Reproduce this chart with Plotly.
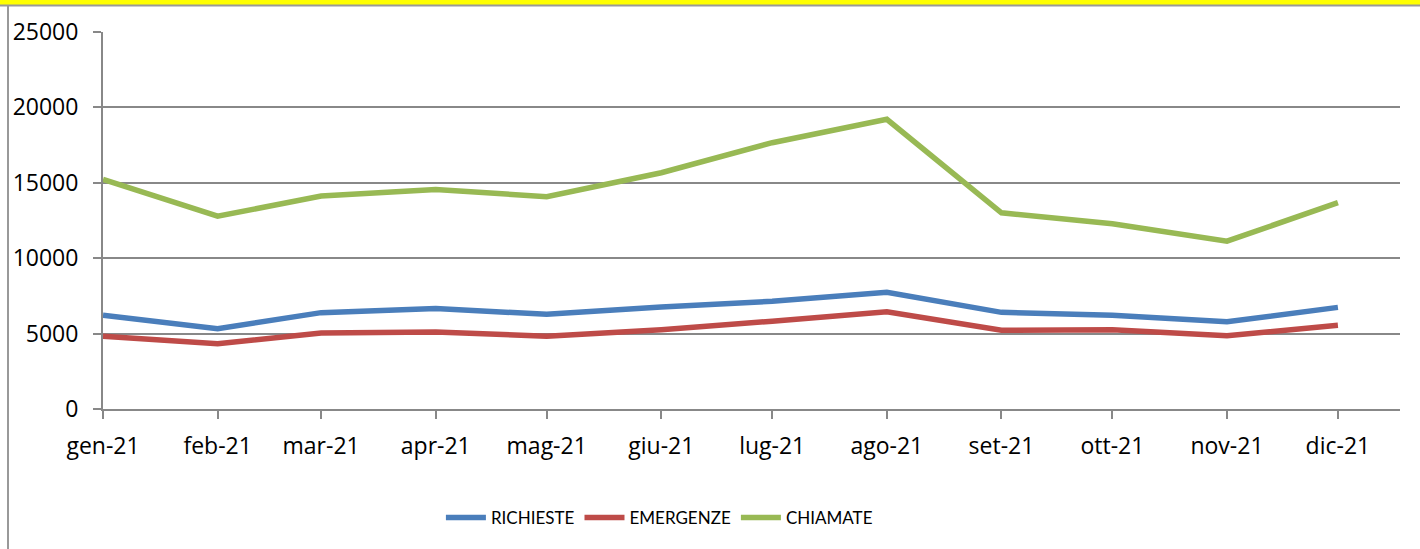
import plotly.graph_objects as go

months = ["2021-01-01", "2021-02-01", "2021-03-01", "2021-04-01", "2021-05-01", "2021-06-01",
          "2021-07-01", "2021-08-01", "2021-09-01", "2021-10-01", "2021-11-01", "2021-12-01"]
month_labels = ["gen-21", "feb-21", "mar-21", "apr-21", "mag-21", "giu-21",
                "lug-21", "ago-21", "set-21", "ott-21", "nov-21", "dic-21"]

richieste = [6210, 5330, 6390, 6660, 6280, 6770, 7140, 7740, 6410, 6210, 5780, 6740]
emergenze = [4820, 4330, 5040, 5110, 4820, 5260, 5820, 6440, 5220, 5260, 4860, 5550]
chiamate = [15220, 12790, 14120, 14560, 14080, 15670, 17660, 19210, 13010, 12280, 11130, 13680]

y_ticks = [0, 5000, 10000, 15000, 20000, 25000]

series = [("RICHIESTE", richieste, "#4A7EBB"),
          ("EMERGENZE", emergenze, "#BE4B48"),
          ("CHIAMATE", chiamate, "#98B954")]

fig = go.Figure()
for name, vals, col in series:
    fig.add_trace(go.Scatter(x=months, y=vals, name=name, mode="lines",
                             line=dict(color=col, width=5.5)))

grid = "#888888"
tick_font = dict(family="Open Sans, sans-serif", size=23, color="black")
fig.update_layout(
    width=1420, height=549,
    margin=dict(l=103, r=20, t=32, b=140),
    paper_bgcolor="white", plot_bgcolor="white",
    showlegend=True,
    legend=dict(orientation="h", x=0.429, xanchor="center", y=-0.289, yanchor="middle",
                font=dict(family="Lato, sans-serif", size=17, color="black"),
                traceorder="normal", itemwidth=40),
    xaxis=dict(type="date", range=["2021-01-01", "2021-12-17 19:00"],
               tickvals=months, ticktext=month_labels,
               showgrid=False, showline=True, linecolor=grid, linewidth=2,
               ticks="outside", ticklen=8, tickwidth=2, tickcolor=grid,
               ticklabelstandoff=7,
               tickfont=tick_font, zeroline=False, fixedrange=True),
    yaxis=dict(range=[0, 25000], tickvals=y_ticks, ticktext=[str(v) for v in y_ticks],
               showgrid=True, gridcolor=grid, gridwidth=2,
               showline=True, linecolor=grid, linewidth=2,
               ticks="outside", ticklen=8, tickwidth=2, tickcolor=grid,
               ticklabelstandoff=10,
               tickfont=tick_font, zeroline=False, fixedrange=True),
    shapes=[
        dict(type="rect", xref="paper", yref="paper", x0=-0.2, x1=1.1, y0=1.0 + 27/377, y1=1.2,
             fillcolor="#FFFF00", line=dict(width=0), layer="below"),
        dict(type="line", xref="paper", yref="paper", x0=-0.2, x1=1.1, y0=1.0 + 26.5/377, y1=1.0 + 26.5/377,
             line=dict(color="#999999", width=2)),
        dict(type="line", xref="paper", yref="paper", x0=-95/1297, x1=-95/1297, y0=-1.0, y1=1.0 + 26.5/377,
             line=dict(color="#999999", width=2)),
    ],
)

fig.write_html("out.html", config={"displayModeBar": False},
               post_script="document.body.style.margin='0';")
